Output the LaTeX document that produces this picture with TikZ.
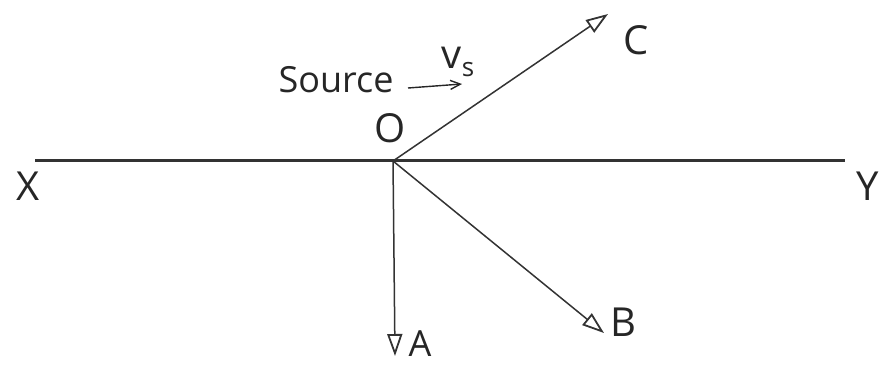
\documentclass[tikz,border=0pt]{standalone}
\usepackage{fontspec}
\setmainfont{Open Sans}
\usetikzlibrary{arrows.meta}
\begin{document}
\begin{tikzpicture}[x=1pt,y=-1pt,
  vec/.style={draw=black!80,line width=1.5pt,-{Triangle[open,length=22pt,width=15pt,line width=1.8pt]}},
  lbl/.style={font=\fontsize{40}{40}\selectfont,text=black!85,inner sep=0pt},
  axis/.style={draw=black!80,line width=3pt}]
\useasboundingbox (0,0) rectangle (888,365);
\coordinate (xl) at (35,160);
\coordinate (xr) at (845,160);
\coordinate (O) at (393,161);
\coordinate (Ce) at (608,14);
\coordinate (Ae) at (395,356);
\coordinate (Be) at (604,333);
\draw[axis] (xl) -- (xr);
\draw[vec] (O) -- (Ce);
\draw[vec] (O) -- (Ae);
\draw[vec] (O) -- (Be);
\node[lbl] (X) at (28,186) {X};
\node[lbl] (Y) at (868,186) {Y};
\node[lbl] (Ol) at (390,128) {O};
\node[lbl] (C) at (636,40) {C};
\node[lbl] (B) at (623,322) {B};
\node[lbl,font=\fontsize{36}{36}\selectfont] (A) at (420,344) {A};
\node[font=\fontsize{36}{36}\selectfont,text=black!85,inner sep=0pt] (src) at (336,80) {Source};
\coordinate (s1) at (408,88);
\coordinate (s2) at (462,84);
\draw[black!85,line width=1.4pt,-{Straight Barb[length=10pt,width=9pt]}] (s1) -- (s2);
\node[font=\fontsize{40}{40}\selectfont,text=black!85,inner sep=0pt] (vs) at (458,62) {v\raisebox{-0.35ex}{\fontsize{26}{26}\selectfont s}};
\end{tikzpicture}
\end{document}
